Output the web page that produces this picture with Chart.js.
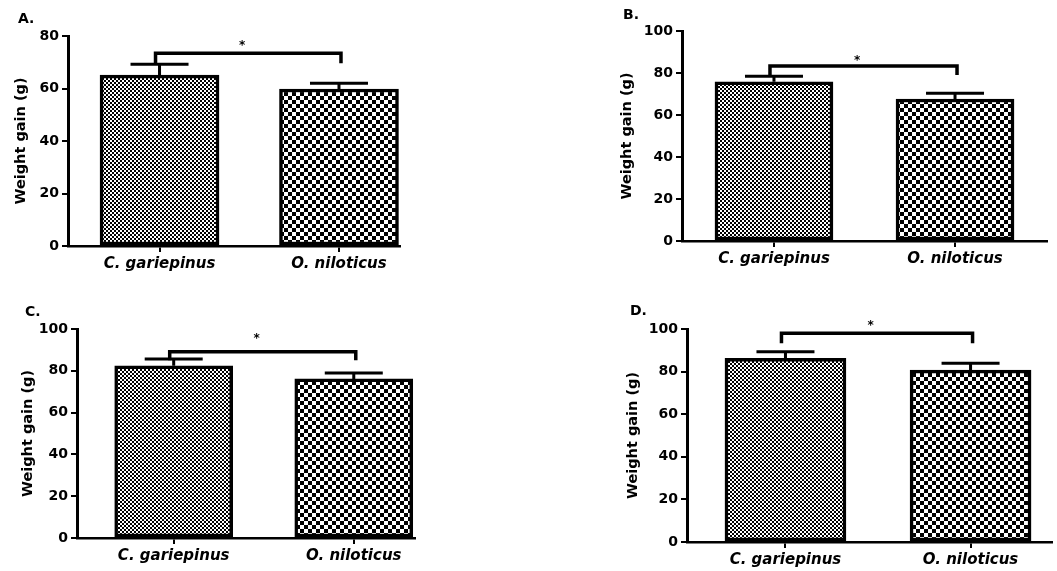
<!DOCTYPE html>
<html>
<head>
<meta charset="utf-8">
<script src="https://cdn.jsdelivr.net/npm/chart.js@4.4.1/dist/chart.umd.min.js"></script>
<style>
  body { margin: 0; background: #fff; }
  #wrap { position: relative; width: 1057px; height: 571px; }
  canvas { position: absolute; }
</style>
</head>
<body>
<div id="wrap">
  <canvas id="panelA" width="528" height="285" style="left:0px;top:0px"></canvas>
  <canvas id="panelB" width="529" height="285" style="left:528px;top:0px"></canvas>
  <canvas id="panelC" width="528" height="286" style="left:0px;top:285px"></canvas>
  <canvas id="panelD" width="529" height="286" style="left:528px;top:285px"></canvas>
</div>
<script>
const categories = ['C. gariepinus', 'O. niloticus'];
const panelNames = ['A.', 'B.', 'C.', 'D.'];

// weight gain (g), mean and SEM per species
const gainA = [65.1, 59.8];
const semA = [4.1, 2.2];
const gainB = [75.8, 67.6];
const semB = [2.6, 2.8];
const gainC = [82.4, 76.1];
const semC = [3.2, 2.8];
const gainD = [86.2, 80.7];
const semD = [3.1, 3.2];

// significance bracket: bar level, end of the drops, level of the star
const bracketLevel = [73.4, 83.3, 89.1, 98];
const bracketDrop = [69.6, 79, 85, 93.3];
const starLevel = [77.4, 87, 96.5, 102.7];

const yMax = [80, 100, 100, 100];
const yStep = 20;

const FONT = 'DejaVu Sans';
Chart.defaults.color = '#000';
Chart.defaults.font.family = FONT;

function checker(cell) {
    const c = document.createElement('canvas');
    c.width = c.height = cell * 2;
    const g = c.getContext('2d');
    g.fillStyle = '#fff';
    g.fillRect(0, 0, cell * 2, cell * 2);
    g.fillStyle = '#000';
    g.fillRect(0, 0, cell, cell);
    g.fillRect(cell, cell, cell, cell);
    return g.createPattern(c, 'repeat');
}

const fine = checker(2);
const coarse = checker(4);

// draws error bars, the bracket with its star and the panel letter
const annot = {
    id: 'annot',
    afterDatasetsDraw(chart, args, o) {
        const { ctx } = chart;
        const x = chart.scales.x, y = chart.scales.y;
        const meta = chart.getDatasetMeta(0);
        ctx.save();
        ctx.strokeStyle = '#000';
        ctx.lineWidth = 3;
        meta.data.forEach((bar, i) => {
            const top = y.getPixelForValue(o.mean[i] + o.sem[i]);
            ctx.beginPath();
            ctx.moveTo(bar.x, bar.y);
            ctx.lineTo(bar.x, top);
            ctx.moveTo(bar.x - 29, top);
            ctx.lineTo(bar.x + 29, top);
            ctx.stroke();
        });

        const xl = x.getPixelForValue(1) - 4;
        const xr = x.getPixelForValue(2) + 2;
        const yl = y.getPixelForValue(o.level);
        const yd = y.getPixelForValue(o.drop);
        ctx.lineWidth = 3.5;
        ctx.lineJoin = 'miter';
        ctx.beginPath();
        ctx.moveTo(xl, yd);
        ctx.lineTo(xl, yl);
        ctx.lineTo(xr, yl);
        ctx.lineTo(xr, yd);
        ctx.stroke();

        ctx.fillStyle = '#000';
        ctx.font = 'bold 12px "' + FONT + '"';
        ctx.textAlign = 'center';
        ctx.textBaseline = 'middle';
        ctx.fillText('*', x.getPixelForValue(1.46), y.getPixelForValue(o.star) + 3);

        ctx.font = 'bold 14px "' + FONT + '"';
        ctx.textAlign = 'left';
        ctx.textBaseline = 'alphabetic';
        ctx.fillText(o.name, o.labelX, o.labelY);
        ctx.restore();
    }
};

const layouts = [
    { id: 'panelA', w: 528, h: 285, area: [68, 36, 400, 246], xMin: 0.49, xMax: 2.34, barW: 119, titleGap: 47, labelX: 18, labelY: 23 },
    { id: 'panelB', w: 529, h: 285, area: [154, 31, 519, 241], xMin: 0.492, xMax: 2.508, barW: 118, titleGap: 55, labelX: 95, labelY: 19 },
    { id: 'panelC', w: 528, h: 286, area: [77, 44, 415, 253], xMin: 0.463, xMax: 2.34, barW: 118, titleGap: 49, labelX: 25, labelY: 31 },
    { id: 'panelD', w: 529, h: 286, area: [159, 44, 524, 257], xMin: 0.468, xMax: 2.44, barW: 121, titleGap: 54, labelX: 102, labelY: 30 },
];

const gains = [gainA, gainB, gainC, gainD];
const sems = [semA, semB, semC, semD];

const titleSize = 14.5;
const xAxisH = 25;

layouts.forEach((L, p) => {
    const [left, top, right, bottom] = L.area;
    const yAxisW = L.titleGap + titleSize * 0.6;
    new Chart(document.getElementById(L.id), {
        type: 'bar',
        data: {
            datasets: [
                {
                    data: gains[p].map((v, i) => ({ x: i + 1, y: v })),
                    backgroundColor: [fine, coarse],
                    borderColor: '#000',
                    borderWidth: 3.5,
                    borderSkipped: false,
                    barThickness: L.barW,
                    grouped: false,
                },
            ],
        },
        options: {
            responsive: false,
            animation: false,
            devicePixelRatio: 1,
            layout: {
                padding: {
                    left: left - yAxisW,
                    top: top,
                    right: L.w - right,
                    bottom: L.h - bottom - xAxisH,
                },
            },
            scales: {
                x: {
                    type: 'linear',
                    offset: false,
                    min: L.xMin,
                    max: L.xMax,
                    afterBuildTicks: (s) => {
                        s.ticks = [{ value: 1 }, { value: 2 }];
                    },
                    afterFit: (s) => {
                        s.height = xAxisH;
                    },
                    ticks: {
                        callback: (v) => categories[v - 1],
                        font: { size: 15, weight: 'bold', style: 'italic' },
                        padding: 3,
                        maxRotation: 0,
                    },
                    grid: { offset: false, drawOnChartArea: false, color: '#000', lineWidth: 2, tickLength: 6 },
                    border: { color: '#000', width: 2.5 },
                },
                y: {
                    min: 0,
                    max: yMax[p],
                    afterFit: (s) => {
                        s.width = yAxisW;
                    },
                    ticks: {
                        stepSize: yStep,
                        font: { size: 14, weight: 'bold' },
                        padding: 3,
                    },
                    grid: { drawOnChartArea: false, color: '#000', lineWidth: 2, tickLength: 6 },
                    border: { color: '#000', width: 3 },
                    title: {
                        display: true,
                        text: 'Weight gain (g)',
                        font: { size: titleSize, weight: 'bold' },
                        padding: 0,
                    },
                },
            },
            plugins: {
                legend: { display: false },
                tooltip: { enabled: false },
                annot: {
                    mean: gains[p],
                    sem: sems[p],
                    level: bracketLevel[p],
                    drop: bracketDrop[p],
                    star: starLevel[p],
                    name: panelNames[p],
                    labelX: L.labelX,
                    labelY: L.labelY,
                },
            },
        },
        plugins: [annot],
    });
});
</script>
</body>
</html>
